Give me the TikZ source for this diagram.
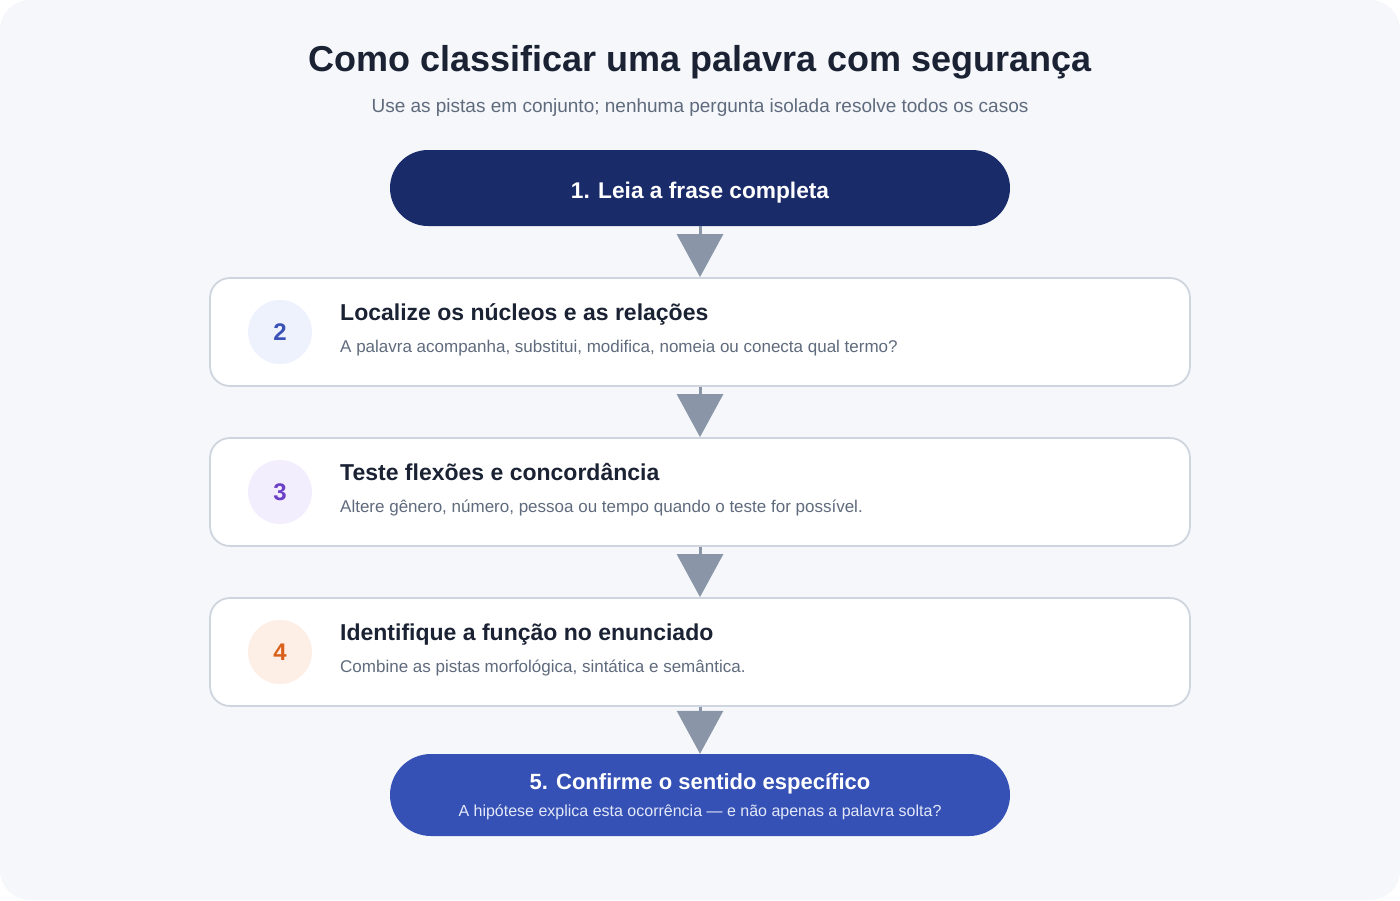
\documentclass[tikz,border=0pt]{standalone}
\usepackage{fontspec}
\setmainfont{Liberation Sans}
\usetikzlibrary{arrows.meta}
\definecolor{bgc}{HTML}{F5F7FA}
\definecolor{navy}{HTML}{1A2B6A}
\definecolor{royal}{HTML}{3551B5}
\definecolor{ink}{HTML}{1A2233}
\definecolor{muted}{HTML}{5F6B7D}
\definecolor{edge}{HTML}{CFD5DE}
\definecolor{arrowc}{HTML}{8A96A8}
\definecolor{subw}{HTML}{E3E8F8}
\definecolor{ctwo}{HTML}{EEF2FD}\definecolor{ntwo}{HTML}{3A52B5}
\definecolor{cthree}{HTML}{F3EEFD}\definecolor{nthree}{HTML}{6B3FC8}
\definecolor{cfour}{HTML}{FDEEE6}\definecolor{nfour}{HTML}{D9601A}
\tikzset{
  pill/.style={rectangle, minimum width=620pt, inner sep=0pt},
  card/.style={rectangle, draw=edge, line width=1.8pt, fill=white, rounded corners=20pt, minimum width=980pt, minimum height=108pt, inner sep=0pt},
  numdisc/.style={circle, minimum size=64pt, inner sep=0pt, font=\fontsize{24}{24}\selectfont\bfseries},
  cardtitle/.style={anchor=base west, inner sep=0pt, text=ink, font=\fontsize{23}{23}\selectfont\bfseries},
  carddesc/.style={anchor=base west, inner sep=0pt, text=muted, font=\fontsize{17}{17}\selectfont},
  flow/.style={draw=arrowc, line width=3pt, -{Triangle[width=46pt,length=43pt]}},
}
\begin{document}
\begin{tikzpicture}[x=1pt,y=-1pt]
\useasboundingbox (0,0) rectangle (1400,900);
\fill[white] (0,0) rectangle (1400,900);
\fill[bgc, rounded corners=30pt] (0,0) rectangle (1400,900);

\node[anchor=base, inner sep=0pt, text=ink, font=\fontsize{36}{36}\selectfont\bfseries] (title) at (700,71) {Como classificar uma palavra com segurança};
\node[anchor=base, inner sep=0pt, text=muted, font=\fontsize{19}{19}\selectfont] (subtitle) at (700,112) {Use as pistas em conjunto; nenhuma pergunta isolada resolve todos os casos};

\node[pill, fill=navy, minimum height=76pt, rounded corners=38pt] (b1) at (700,188) {};
\node[anchor=base, inner sep=0pt, text=white, font=\fontsize{22.7}{22.7}\selectfont\bfseries] (b1t) at (700,198) {1. Leia a frase completa};

\node[card] (b2) at (700,332) {};
\node[numdisc, fill=ctwo, text=ntwo] (n2) at (280,332) {2};
\node[cardtitle] (b2t) at (340,320) {Localize os núcleos e as relações};
\node[carddesc] (b2d) at (340,352) {A palavra acompanha, substitui, modifica, nomeia ou conecta qual termo?};

\node[card] (b3) at (700,492) {};
\node[numdisc, fill=cthree, text=nthree] (n3) at (280,492) {3};
\node[cardtitle] (b3t) at (340,480) {Teste flexões e concordância};
\node[carddesc] (b3d) at (340,512) {Altere gênero, número, pessoa ou tempo quando o teste for possível.};

\node[card] (b4) at (700,652) {};
\node[numdisc, fill=cfour, text=nfour] (n4) at (280,652) {4};
\node[cardtitle] (b4t) at (340,640) {Identifique a função no enunciado};
\node[carddesc] (b4d) at (340,672) {Combine as pistas morfológica, sintática e semântica.};

\node[pill, fill=royal, minimum height=82pt, rounded corners=41pt] (b5) at (700,795) {};
\node[anchor=base, inner sep=0pt, text=white, font=\fontsize{22}{22}\selectfont\bfseries] (b5t) at (700,789) {5. Confirme o sentido específico};
\node[anchor=base, inner sep=0pt, text=subw, font=\fontsize{16}{16}\selectfont] (b5d) at (700,816) {A hipótese explica esta ocorrência — e não apenas a palavra solta?};

\draw[flow] (b1.south) -- (b2.north);
\draw[flow] (b2.south) -- (b3.north);
\draw[flow] (b3.south) -- (b4.north);
\draw[flow] (b4.south) -- (b5.north);
\end{tikzpicture}
\end{document}
